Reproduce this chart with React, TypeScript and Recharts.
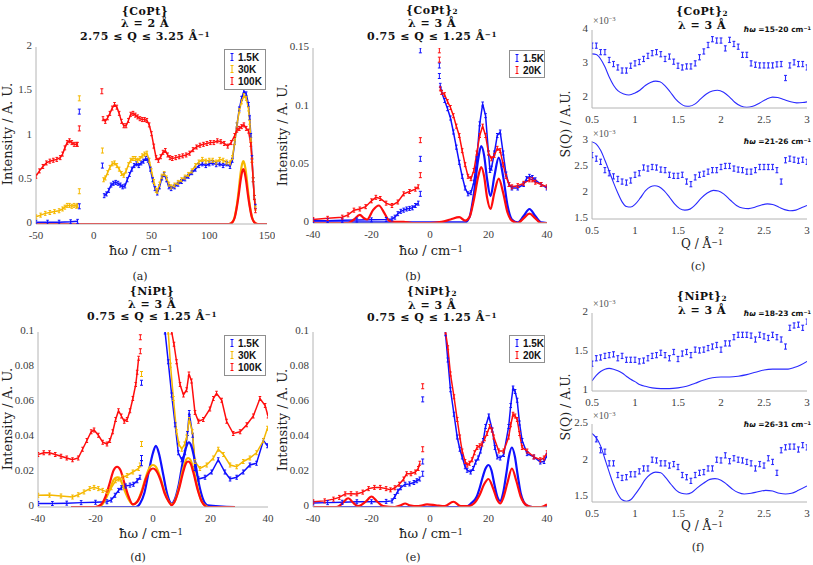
import React from 'react';
import { ComposedChart, Line, Scatter, XAxis, YAxis } from 'recharts';

type P = [number, number];

const BLUE = '#1010ff';
const GOLD = '#f5b800';
const RED = '#ff0d0d';
const AXC = '#b4b4b4';
const SERIF = '"DejaVu Serif", serif';
const TSERIF = '"Liberation Serif", serif';
const SANS = '"Liberation Sans", Arial, sans-serif';

// ---------------- panel (a) {CoPt}, lambda = 2 A ----------------
const aBlueL: P[] = [[-50,0.02],[-40,0.02],[-30,0.02],[-20,0.025],[-14,0.03]];
const aBlueR: P[] = [[9,0.32],[11,0.34],[13,0.38],[15,0.44],[17,0.46],[19,0.47],[21,0.46],[23,0.44],[25,0.42],[27,0.43],[29,0.5],[31,0.56],[33,0.62],[35,0.66],[37,0.68],[39,0.66],[41,0.69],[43,0.71],[45,0.74],[47,0.72],[49,0.62],[51,0.5],[53,0.4],[55,0.35],[57,0.42],[59,0.52],[61,0.56],[63,0.5],[65,0.42],[67,0.4],[70,0.42],[73,0.45],[76,0.48],[79,0.51],[82,0.54],[85,0.58],[88,0.62],[91,0.66],[94,0.68],[97,0.66],[100,0.68],[103,0.69],[106,0.67],[109,0.68],[112,0.66],[115,0.68],[118,0.65],[120,0.72],[122,0.92],[124,1.12],[126,1.3],[128,1.42],[130,1.5],[132,1.47],[134,1.35],[135,1.2],[136,1.0],[137,0.75],[138,0.5],[139,0.3],[140,0.2]];
const aBlueGap: P[] = [[-12.5,1.27],[-12.5,0.2],[7.5,0.66]];
const aGoldL: P[] = [[-50,0.08],[-46,0.1],[-42,0.12],[-38,0.13],[-34,0.14],[-30,0.15],[-27,0.17],[-25,0.19],[-23,0.21],[-21,0.21],[-19,0.2],[-17,0.21],[-15,0.2],[-14,0.21]];
const aGoldR: P[] = [[8.5,0.5],[10,0.52],[12,0.58],[14,0.64],[16,0.68],[18,0.69],[20,0.66],[22,0.62],[24,0.57],[26,0.55],[28,0.6],[30,0.67],[32,0.72],[34,0.74],[36,0.74],[38,0.72],[40,0.74],[42,0.77],[44,0.79],[46,0.8],[48,0.72],[50,0.6],[52,0.48],[54,0.38],[55,0.37],[57,0.45],[59,0.54],[61,0.57],[63,0.52],[65,0.45],[67,0.42],[70,0.44],[73,0.47],[76,0.5],[79,0.53],[82,0.56],[85,0.6],[88,0.66],[91,0.7],[94,0.73],[97,0.71],[100,0.72],[103,0.72],[106,0.7],[109,0.73],[112,0.72],[115,0.7],[118,0.69],[120,0.75],[122,0.92],[124,1.12],[126,1.28],[128,1.38],[130,1.45],[132,1.42],[134,1.3],[135,1.15],[136,0.95],[137,0.72],[138,0.5],[139,0.3],[140,0.18]];
const aGoldGap: P[] = [[-12.5,1.42],[-12.5,0.37],[7.5,0.83]];
const aRedL: P[] = [[-50,0.54],[-47,0.6],[-44,0.65],[-41,0.69],[-38,0.71],[-35,0.72],[-32,0.73],[-29,0.75],[-27,0.79],[-25,0.86],[-23,0.92],[-21,0.94],[-19,0.92],[-17,0.9],[-15,0.9],[-14,0.9]];
const aRedR: P[] = [[8,1.19],[10,1.16],[12,1.2],[14,1.25],[16,1.31],[18,1.35],[20,1.32],[22,1.25],[24,1.16],[26,1.11],[28,1.11],[30,1.17],[32,1.24],[34,1.25],[36,1.23],[38,1.21],[40,1.19],[42,1.18],[44,1.18],[46,1.17],[48,1.12],[50,1.02],[52,0.88],[54,0.75],[56,0.72],[58,0.76],[60,0.81],[62,0.83],[64,0.78],[66,0.75],[68,0.74],[71,0.75],[74,0.76],[77,0.77],[80,0.78],[83,0.8],[86,0.84],[89,0.87],[92,0.89],[95,0.9],[98,0.91],[101,0.92],[104,0.92],[107,0.94],[110,0.93],[113,0.91],[116,0.88],[119,0.92],[122,1.0],[124,1.06],[126,1.08],[128,1.1],[130,1.12],[132,1.08],[134,1.05],[136,0.9],[137,0.72],[138,0.5],[139,0.3],[140,0.15]];
const aRedGap: P[] = [[-12.5,1.08],[7,1.5]];
const aGoldFit: P[] = [[-50,0],[116,0],[118,0.003],[120,0.02],[122,0.08],[124,0.22],[125.5,0.38],[127,0.56],[128.5,0.68],[129.5,0.71],[130.5,0.68],[132,0.56],[133.5,0.38],[135,0.22],[137,0.08],[139,0.02],[141,0.003],[143,0],[150,0]];
const aRedFit: P[] = [[-50,0],[116,0],[118,0.003],[120,0.02],[122,0.07],[124,0.2],[125.5,0.33],[127,0.48],[128.5,0.59],[129.5,0.62],[130.5,0.59],[132,0.48],[133.5,0.33],[135,0.2],[137,0.07],[139,0.02],[141,0.003],[143,0],[150,0]];

// ---------------- panel (b) {CoPt}2, lambda = 3 A ----------------
const bBlueL: P[] = [[-40,0.002],[-35,0.002],[-30,0.0023],[-25,0.0025],[-20,0.0027],[-15,0.003],[-13,0.0035],[-12,0.005],[-11,0.008],[-10,0.01],[-9,0.011],[-8,0.012],[-7,0.0125],[-6,0.013],[-5,0.015],[-4,0.017]];
const bBlueR: P[] = [[3.5,0.118],[4,0.112],[5,0.105],[6,0.098],[7,0.09],[8,0.078],[9,0.065],[10,0.052],[11,0.04],[12,0.03],[13,0.025],[14,0.026],[15,0.035],[16,0.055],[17,0.085],[18,0.102],[19,0.092],[20,0.06],[20.5,0.045],[21,0.047],[22,0.06],[23,0.075],[24,0.078],[25,0.06],[26,0.042],[27,0.033],[28,0.03],[30,0.03],[32,0.033],[33,0.038],[34,0.04],[35,0.039],[36,0.037],[38,0.033],[40,0.03]];
const bBlueGap: P[] = [[-3.3,0.025],[-3.3,0.055],[-3.3,0.148],[3.2,0.135],[3.2,0.126]];
const bRedL: P[] = [[-40,0.003],[-35,0.004],[-30,0.005],[-28,0.007],[-26,0.011],[-24,0.012],[-22,0.014],[-20,0.019],[-18.5,0.022],[-17,0.021],[-15,0.017],[-13,0.015],[-11,0.018],[-9,0.025],[-7,0.027],[-5,0.029],[-4,0.031]];
const bRedR: P[] = [[3.5,0.115],[4,0.112],[5,0.11],[6,0.104],[7,0.099],[8,0.092],[9,0.083],[10,0.075],[11,0.062],[12,0.05],[13,0.04],[14,0.038],[15,0.045],[16,0.06],[17,0.075],[18,0.083],[19,0.075],[20,0.06],[21,0.055],[22,0.058],[23,0.064],[24,0.062],[25,0.05],[26,0.04],[27,0.033],[28,0.031],[30,0.032],[32,0.034],[34,0.037],[35,0.037],[36,0.035],[38,0.033],[40,0.031]];
const bRedGap: P[] = [[-3.3,0.041],[-3.3,0.071],[3.2,0.148],[3.2,0.14]];
const bBlueFit: P[] = [[-40,0.0005],[-14,0.0005],[12,0.0005],[13.5,0.005],[15,0.025],[16.5,0.055],[17.5,0.066],[18.5,0.058],[19.5,0.038],[20.7,0.023],[22,0.04],[23.5,0.056],[25,0.04],[26.5,0.015],[28,0.003],[30,0.0005],[32,0.006],[34,0.012],[36,0.006],[38,0.0005],[40,0]];
const bRedFit: P[] = [[-40,0],[-28,0],[-26,0.003],[-24,0.007],[-22.5,0.004],[-21.5,0.003],[-19.5,0.011],[-17.5,0.015],[-15.5,0.008],[-14,0.002],[-12,0.001],[-9,0.001],[-6,0],[0,0],[4,0.001],[7,0.003],[10,0.005],[12,0.002],[13.5,0.005],[15,0.02],[16.5,0.04],[17.5,0.048],[18.5,0.04],[19.5,0.022],[20.7,0.012],[22,0.026],[23.5,0.038],[25,0.026],[26.5,0.009],[28,0.002],[30,0],[32,0.004],[34,0.008],[36,0.004],[38,0],[40,0]];

// ---------------- panel (d) {NiPt}, lambda = 3 A ----------------
const dBlueL: P[] = [[-40,0.002],[-35,0.002],[-30,0.0022],[-25,0.0025],[-20,0.0027],[-16,0.003],[-14.5,0.004],[-13.2,0.0067],[-12,0.0095],[-11,0.011],[-9.5,0.012],[-8,0.0125],[-6.8,0.013],[-5.5,0.015],[-4.5,0.017]];
const dBlueR: P[] = [[3.6,0.12],[4.2,0.1],[5.3,0.083],[6.5,0.064],[7.7,0.047],[8.8,0.031],[10,0.027],[11.1,0.031],[12,0.042],[12.6,0.054],[13.8,0.041],[14.6,0.022],[15.8,0.016],[18.1,0.017],[20.4,0.02],[22.7,0.027],[25,0.02],[26.8,0.016],[29.1,0.017],[31.4,0.02],[33.7,0.024],[36,0.025],[38.4,0.038],[39.8,0.035]];
const dBlueGap: P[] = [[-4,0.025],[-4,0.028],[-4,0.071]];
const dGoldL: P[] = [[-40,0.0067],[-36,0.0068],[-32,0.0063],[-28,0.0057],[-26,0.007],[-24,0.0086],[-22,0.0105],[-20.5,0.0112],[-19,0.0105],[-17.5,0.0095],[-16,0.0088],[-14.5,0.011],[-13,0.015],[-12,0.016],[-10.5,0.017],[-9,0.018],[-7,0.02],[-5,0.022],[-4.5,0.024]];
const dGoldR: P[] = [[4.6,0.12],[5.3,0.1],[6.1,0.081],[7.1,0.062],[8.2,0.043],[9,0.036],[10,0.033],[11,0.036],[11.7,0.04],[12.6,0.05],[13.7,0.043],[14.6,0.026],[16.3,0.022],[18.7,0.024],[21,0.028],[22.7,0.033],[24.5,0.03],[26.8,0.024],[29.1,0.023],[31.4,0.026],[33.7,0.028],[36,0.031],[38.4,0.038],[39.8,0.045]];
const dGoldGap: P[] = [[-4,0.036],[-4,0.076]];
const dRedL: P[] = [[-40,0.03],[-38,0.031],[-36,0.031],[-34,0.03],[-32,0.029],[-30,0.028],[-28,0.027],[-26,0.028],[-24.5,0.033],[-23,0.038],[-21.5,0.043],[-20.5,0.044],[-19,0.041],[-17.5,0.037],[-16,0.036],[-15,0.038],[-14,0.043],[-13,0.05],[-12,0.055],[-11,0.052],[-10,0.049],[-9,0.05],[-8,0.055],[-7,0.062],[-6,0.07],[-5.5,0.077],[-5,0.085]];
const dRedR: P[] = [[5.9,0.12],[6.5,0.1],[7.3,0.093],[8.2,0.083],[9.4,0.07],[10.6,0.064],[11.7,0.067],[12.5,0.076],[13.4,0.072],[14.6,0.054],[15.8,0.049],[17.5,0.05],[19.8,0.056],[21,0.062],[22.1,0.065],[23.9,0.061],[25.6,0.049],[27.9,0.042],[30.3,0.043],[32.6,0.047],[34.9,0.052],[37.2,0.062],[39,0.058],[40,0.052]];
const dRedGap: P[] = [[-4.4,0.089],[-4.4,0.097]];
const dBlueFit: P[] = [[-28.5,0],[-6,0],[-4.5,0.002],[-3,0.008],[-1.5,0.02],[0,0.031],[1,0.035],[2,0.031],[3.5,0.019],[5,0.007],[6.5,0.002],[7.5,0.004],[9,0.013],[10.5,0.027],[11.7,0.035],[12.5,0.037],[13.3,0.035],[14.5,0.027],[16,0.013],[17.5,0.004],[19,0.001],[28.5,0]];
const dGoldFit: P[] = [[-20,0],[-18,0.001],[-16.5,0.0045],[-15,0.01],[-13.7,0.0155],[-12.5,0.017],[-11.3,0.0155],[-10,0.01],[-8.5,0.0045],[-7,0.0015],[-5.5,0.003],[-4,0.009],[-2.5,0.017],[-1,0.023],[0,0.024],[1,0.023],[2.5,0.017],[4,0.009],[5.5,0.003],[6.5,0.0015],[7.5,0.003],[9,0.011],[10.5,0.022],[11.5,0.027],[12.2,0.028],[13,0.027],[14,0.022],[15.5,0.011],[17,0.003],[19,0]];
const dRedFit: P[] = [[-28.5,0],[-20,0],[-18,0.0015],[-16.5,0.006],[-15,0.014],[-13.7,0.021],[-12.5,0.023],[-11.3,0.021],[-10,0.014],[-8.5,0.006],[-7,0.0015],[-5.5,0.003],[-4,0.008],[-2.5,0.016],[-1,0.021],[0,0.022],[1,0.021],[2.5,0.016],[4,0.008],[5.5,0.003],[6.5,0.001],[7.5,0.003],[9,0.01],[10.5,0.02],[11.5,0.025],[12.2,0.026],[13,0.025],[14,0.02],[15.5,0.01],[17,0.003],[19,0],[28.5,0]];

// ---------------- panel (e) {NiPt}2, lambda = 3 A ----------------
const eBlueL: P[] = [[-40,0.0023],[-35,0.0025],[-30,0.0027],[-25,0.003],[-20,0.003],[-15,0.0032],[-13,0.0035],[-12,0.006],[-11,0.009],[-10,0.011],[-8.5,0.013],[-7,0.0132],[-5.5,0.014],[-4.5,0.015],[-3.5,0.016]];
const eBlueR: P[] = [[4.8,0.11],[5.3,0.099],[6.1,0.084],[7,0.067],[8.2,0.053],[9.3,0.04],[10.2,0.033],[11,0.0286],[12,0.023],[12.7,0.021],[13.9,0.02],[14.8,0.022],[15.6,0.0257],[16.5,0.028],[17.3,0.032],[18.2,0.038],[19,0.046],[20.1,0.052],[21.3,0.044],[22.2,0.034],[23,0.0286],[24,0.028],[25.2,0.03],[26.9,0.046],[27.6,0.058],[28.4,0.068],[29.1,0.066],[29.8,0.061],[30.6,0.048],[31.5,0.038],[33.2,0.0305],[35.5,0.0286],[37.7,0.0257],[39,0.026],[40,0.0295]];
const eBlueGap: P[] = [[-2.5,0.019],[-2.5,0.026],[-2.5,0.0615]];
const eRedL: P[] = [[-40,0.003],[-36,0.0035],[-33,0.0045],[-31,0.0055],[-29,0.0075],[-27,0.0076],[-25,0.0075],[-23,0.0085],[-21,0.0105],[-19,0.0112],[-17,0.0112],[-15,0.0105],[-13.5,0.0098],[-12,0.011],[-10.5,0.013],[-9,0.016],[-8,0.019],[-6.5,0.019],[-5,0.02],[-4,0.022],[-3.5,0.025]];
const eRedR: P[] = [[4.8,0.11],[5.3,0.1],[6.1,0.091],[7,0.076],[8.2,0.063],[9.3,0.05],[10.2,0.04],[11,0.032],[12,0.026],[12.7,0.024],[13.5,0.025],[14.4,0.027],[15.2,0.031],[16.1,0.034],[17,0.035],[17.8,0.036],[18.7,0.039],[19.5,0.042],[20.4,0.046],[21.2,0.044],[21.8,0.04],[23.5,0.032],[25.2,0.032],[26.9,0.04],[27.6,0.047],[28.4,0.053],[29.1,0.052],[29.8,0.05],[30.6,0.042],[31.5,0.034],[33.2,0.032],[35.5,0.0286],[37.7,0.027],[39,0.028],[40,0.031]];
const eRedGap: P[] = [[-2.5,0.033],[-2.5,0.069]];
const eBlueFit: P[] = [[-40,0],[12,0],[14,0.002],[16,0.006],[17,0.011],[18,0.017],[19,0.022],[20,0.024],[21,0.021],[22,0.013],[23,0.006],[24,0.0035],[25,0.008],[26,0.018],[27,0.029],[28,0.034],[29,0.029],[30,0.018],[31,0.008],[32,0.003],[33,0.001],[35,0],[40,0]];
const eRedFit: P[] = [[-40,0],[-32,0],[-30,0.002],[-28,0.005],[-26,0.002],[-24.5,0.0005],[-22,0.003],[-20,0.006],[-18,0.003],[-16,0.0005],[-12,0],[-10,0.001],[-8.5,0.002],[-7,0.001],[-4,0.0005],[-1,0.0015],[2,0.001],[5,0.0005],[8,0.003],[10.5,0.0005],[13,0.0005],[15,0.002],[17,0.007],[18.5,0.013],[20,0.016],[21.5,0.011],[23,0.004],[24,0.002],[25,0.005],[26.5,0.014],[28,0.022],[29.5,0.015],[31,0.006],[33,0.001],[35,0],[38,0],[40,0.0015]];

// ---------------- panels (c) and (f): S(Q), in units of 1e-3 ----------------
const qGrid = [0.5,0.55,0.6,0.65,0.7,0.75,0.8,0.85,0.9,0.95,1.0,1.05,1.1,1.15,1.2,1.25,1.3,1.35,1.4,1.45,1.5,1.55,1.6,1.65,1.7,1.75,1.8,1.85,1.9,1.95,2.0,2.05,2.1,2.15,2.2,2.25,2.3,2.35,2.4,2.45,2.5,2.55,2.6,2.65,2.7,2.75,2.8,2.85,2.9,2.95,3.0];
const qGridF2 = [0.55,0.6,0.65,0.7,0.75,0.8,0.85,0.9,0.95,1.0,1.05,1.1,1.15,1.2,1.25,1.3,1.35,1.4,1.45,1.5,1.55,1.6,1.65,1.7,1.75,1.8,1.85,1.9,1.95,2.0,2.05,2.1,2.15,2.2,2.25,2.3,2.35,2.4,2.45,2.5,2.55,2.6,2.65,2.7,2.75,2.8,2.85,2.9,2.95,3.0];
const c1Obs = [3.54,3.54,3.35,3.35,3.12,3.0,2.9,2.81,2.81,2.95,3.02,3.06,3.15,3.24,3.32,3.35,3.29,3.15,3.22,3.07,2.95,2.9,2.93,2.93,3.02,3.2,3.37,3.56,3.73,3.69,3.69,3.46,3.71,3.59,3.51,3.27,3.27,3.02,2.98,2.96,2.96,2.96,2.96,2.99,3.0,2.59,2.96,3.05,3.0,3.0,2.9];
const c2Obs = [2.73,2.66,2.6,2.44,2.38,2.32,2.27,2.22,2.2,2.24,2.35,2.38,2.49,2.47,2.5,2.49,2.45,2.44,2.35,2.33,2.33,2.35,2.22,2.17,2.3,2.35,2.37,2.41,2.44,2.44,2.5,2.52,2.52,2.47,2.45,2.44,2.41,2.41,2.44,2.5,2.5,2.5,2.5,2.44,2.22,2.63,2.66,2.64,2.62,2.64,2.6];
const f1Obs = [1.35,1.42,1.43,1.45,1.46,1.47,1.42,1.45,1.4,1.4,1.4,1.38,1.39,1.42,1.45,1.46,1.49,1.46,1.42,1.5,1.41,1.48,1.5,1.46,1.53,1.52,1.53,1.55,1.57,1.59,1.53,1.61,1.61,1.69,1.72,1.72,1.72,1.71,1.66,1.72,1.7,1.68,1.72,1.69,1.66,1.57,1.81,1.84,1.85,1.81,1.89];
const f2Obs = [2.29,2.14,2.12,1.96,1.96,1.8,1.76,1.77,1.81,1.81,1.85,1.89,1.89,2.01,2.0,1.96,1.96,1.93,1.95,1.91,1.8,1.77,1.72,1.8,1.83,1.84,1.89,1.89,2.01,2.0,2.07,1.99,2.03,2.01,2.0,1.98,1.96,1.89,1.95,1.93,2.03,1.98,1.83,2.14,2.18,2.19,2.19,2.15,2.21,2.18];
const c1Fit: P[] = [[0.5,3.3],[0.55,3.28],[0.6,3.15],[0.65,2.92],[0.7,2.62],[0.75,2.38],[0.8,2.22],[0.87,2.12],[0.93,2.09],[1.0,2.15],[1.06,2.24],[1.12,2.37],[1.18,2.46],[1.24,2.5],[1.29,2.48],[1.35,2.36],[1.41,2.18],[1.47,1.98],[1.53,1.84],[1.58,1.77],[1.63,1.76],[1.7,1.83],[1.76,1.97],[1.83,2.12],[1.9,2.21],[1.96,2.23],[2.03,2.17],[2.1,2.03],[2.16,1.88],[2.23,1.77],[2.3,1.73],[2.37,1.76],[2.45,1.86],[2.53,1.97],[2.6,2.03],[2.66,2.02],[2.73,1.96],[2.8,1.9],[2.88,1.86],[2.95,1.87],[3.0,1.89]];
const c2Fit: P[] = [[0.5,2.98],[0.55,2.94],[0.6,2.82],[0.65,2.63],[0.7,2.42],[0.75,2.2],[0.8,2.0],[0.85,1.83],[0.9,1.74],[0.95,1.73],[1.0,1.78],[1.06,1.9],[1.12,2.04],[1.18,2.12],[1.23,2.14],[1.28,2.12],[1.34,2.04],[1.4,1.92],[1.46,1.79],[1.52,1.7],[1.58,1.67],[1.64,1.69],[1.7,1.77],[1.77,1.9],[1.84,2.0],[1.91,2.05],[1.97,2.04],[2.04,1.97],[2.11,1.86],[2.18,1.76],[2.25,1.71],[2.32,1.7],[2.4,1.73],[2.47,1.77],[2.54,1.79],[2.6,1.78],[2.67,1.73],[2.74,1.68],[2.8,1.66],[2.87,1.67],[2.94,1.72],[3.0,1.76]];
const f1Fit: P[] = [[0.5,1.13],[0.55,1.2],[0.6,1.25],[0.65,1.28],[0.7,1.29],[0.75,1.28],[0.8,1.26],[0.85,1.23],[0.9,1.19],[0.95,1.15],[1.0,1.12],[1.06,1.08],[1.12,1.06],[1.2,1.04],[1.3,1.03],[1.4,1.03],[1.5,1.04],[1.6,1.06],[1.7,1.1],[1.8,1.14],[1.9,1.17],[2.0,1.18],[2.1,1.18],[2.2,1.19],[2.3,1.21],[2.4,1.24],[2.5,1.27],[2.6,1.28],[2.7,1.28],[2.78,1.28],[2.85,1.3],[2.92,1.33],[3.0,1.38]];
const f2Fit: P[] = [[0.5,2.37],[0.55,2.31],[0.6,2.2],[0.65,2.02],[0.7,1.84],[0.75,1.67],[0.8,1.54],[0.85,1.46],[0.9,1.44],[0.95,1.46],[1.0,1.53],[1.06,1.63],[1.12,1.74],[1.18,1.81],[1.24,1.84],[1.3,1.83],[1.36,1.76],[1.42,1.67],[1.48,1.59],[1.54,1.55],[1.6,1.54],[1.66,1.56],[1.72,1.62],[1.8,1.69],[1.87,1.74],[1.93,1.75],[2.0,1.73],[2.07,1.67],[2.14,1.6],[2.2,1.56],[2.27,1.54],[2.35,1.55],[2.43,1.57],[2.52,1.59],[2.6,1.58],[2.68,1.55],[2.75,1.54],[2.82,1.55],[2.9,1.59],[3.0,1.65]];

// ---------------- axis ticks ----------------
const xTicksA = [-50, 0, 50, 100, 150];
const xTicksB = [-40, -20, 0, 20, 40];
const yTicksA = [0, 0.5, 1, 1.5, 2];
const yTicksB = [0, 0.05, 0.1, 0.15];
const yTicksD = [0, 0.02, 0.04, 0.06, 0.08, 0.1];
const qTicks = [0.5, 1, 1.5, 2, 2.5, 3];
const yTicksC1 = [2, 3, 4];
const yTicksC2 = [1.5, 2, 2.5, 3];
const yTicksF1 = [1, 1.5, 2];
const yTicksF2 = [1.5, 2, 2.5];

// ---------------- helpers ----------------
const pts = (a: P[]) => a.map(([x, y]) => ({ x, y }));
const zipPts = (xs: number[], ys: number[]) => ys.map((y, i) => ({ x: xs[i], y }));

const bar = (color: string, h: number, w: number, sw = 1) => (p: any) => {
  const { cx, cy, index } = p;
  if (typeof cx !== 'number' || typeof cy !== 'number' || isNaN(cx) || isNaN(cy)) return <g key={`n${index}`} />;
  return (
    <g key={`b${index}`} stroke={color} strokeWidth={sw} fill="none">
      <line x1={cx} x2={cx} y1={cy - h} y2={cy + h} />
      <line x1={cx - w} x2={cx + w} y1={cy - h} y2={cy - h} />
      <line x1={cx - w} x2={cx + w} y1={cy + h} y2={cy + h} />
    </g>
  );
};

const dataLine = (key: string, d: P[], color: string) => (
  <Line key={key} data={pts(d)} dataKey="y" type="linear" stroke={color} strokeWidth={1.5}
    dot={bar(color, 2, 1.3)} activeDot={false} isAnimationActive={false} />
);
const gapPts = (key: string, d: P[], color: string) => (
  <Scatter key={key} data={pts(d)} dataKey="y" fill={color} shape={bar(color, 2.5, 1.5)} isAnimationActive={false} />
);
const fitLine = (key: string, d: P[], color: string, sw = 2) => (
  <Line key={key} data={pts(d)} dataKey="y" type="monotone" stroke={color} strokeWidth={sw}
    dot={false} activeDot={false} isAnimationActive={false} />
);
const obsPts = (key: string, xs: number[], ys: number[]) => (
  <Scatter key={key} data={zipPts(xs, ys)} dataKey="y" fill={BLUE} shape={bar('#2a2aff', 2.6, 1.4, 1.1)} isAnimationActive={false} />
);

type Rect = { l: number; t: number; r: number; b: number };
const PAD = { l: 40, r: 8, t: 11, b: 22 };
const TICK = { fontSize: 11, fill: '#3c3c3c', fontFamily: TSERIF };

const makeYTick = (dy: string) => (p: any) => (
  <text x={p.x} y={p.y} dy={dy} textAnchor="end" fontSize={11} fill="#3c3c3c" fontFamily={TSERIF}>
    {String(p.payload?.value)}
  </text>
);

function Plot(props: { rect: Rect; xd: number[]; xt: number[]; yd: number[]; yt: number[]; children: React.ReactNode }) {
  const { rect, xd, xt, yd, yt, children } = props;
  const w = rect.r - rect.l + PAD.l + PAD.r;
  const h = rect.b - rect.t + PAD.t + PAD.b;
  return (
    <div style={{ position: 'absolute', left: rect.l - PAD.l, top: rect.t - PAD.t, width: w, height: h }}>
      <ComposedChart width={w} height={h} margin={{ top: PAD.t, right: PAD.r, bottom: 0, left: 0 }}>
        <XAxis type="number" dataKey="x" domain={xd} ticks={xt} allowDataOverflow interval={0} height={PAD.b}
          axisLine={{ stroke: AXC }} tickLine={false} tickSize={3} tickMargin={4} tick={TICK} />
        <YAxis type="number" dataKey="y" domain={yd} ticks={yt} allowDataOverflow interval={0} width={PAD.l}
          axisLine={{ stroke: AXC }} tickLine={false} tickSize={3} tickMargin={1} tick={makeYTick('0.2em')} />
        {children}
      </ComposedChart>
    </div>
  );
}

const Sup = ({ children }: { children: React.ReactNode }) => (
  <span style={{ fontSize: '0.66em', position: 'relative', top: '-0.4em' }}>{children}</span>
);
const Sub = ({ children }: { children: React.ReactNode }) => (
  <span style={{ fontSize: '0.66em', position: 'relative', top: '0.12em' }}>{children}</span>
);

function Txt(props: { x: number; y: number; size?: number; bold?: boolean; family?: string; color?: string; rotate?: number; align?: 'center' | 'left' | 'right'; ls?: number; children: React.ReactNode }) {
  const { x, y, size = 11, bold = false, family = SERIF, color = '#111', rotate, align = 'center', ls = 0, children } = props;
  const tx = align === 'center' ? '-50%' : align === 'right' ? '-100%' : '0';
  return (
    <div style={{
      position: 'absolute', left: x, top: y, whiteSpace: 'nowrap', lineHeight: 1,
      transform: `translate(${tx}, -50%)${rotate ? ` rotate(${rotate}deg)` : ''}`,
      fontSize: size, fontWeight: bold ? 'bold' : 'normal', letterSpacing: ls,
      fontFamily: family, color,
    }}>{children}</div>
  );
}

const Title = (props: { x: number; y: number; children: React.ReactNode }) => (
  <Txt x={props.x} y={props.y} size={11} bold ls={0.5}>{props.children}</Txt>
);

function LegendBox(props: { x: number; y: number; w: number; items: [string, string][] }) {
  const { x, y, w, items } = props;
  return (
    <div style={{ position: 'absolute', left: x, top: y, width: w, boxSizing: 'border-box', border: '1px solid #8f8f8f', background: '#fff', padding: '1px 0' }}>
      {items.map(([label, color]) => (
        <div key={label} style={{ height: 12.2, display: 'flex', alignItems: 'center', fontFamily: SANS, fontWeight: 'bold', fontSize: 10, color: '#111' }}>
          <svg width={4} height={8} style={{ marginLeft: 5, marginRight: 4 }}>
            <path d="M0.5 0.5 H3.5 M2 0.5 V7.5 M0.5 7.5 H3.5" stroke={color} strokeWidth={1} fill="none" />
          </svg>
          <span>{label}</span>
        </div>
      ))}
    </div>
  );
}

const rectA: Rect = { l: 36, t: 47, r: 267, b: 224 };
const rectB: Rect = { l: 313, t: 48, r: 547, b: 223 };
const rectD: Rect = { l: 38, t: 332, r: 268, b: 507 };
const rectE: Rect = { l: 313, t: 332, r: 547, b: 507 };
const rectC1: Rect = { l: 592, t: 30, r: 807, b: 108 };
const rectC2: Rect = { l: 592, t: 141, r: 807, b: 219 };
const rectF1: Rect = { l: 592, t: 313, r: 807, b: 391 };
const rectF2: Rect = { l: 592, t: 424, r: 807, b: 502 };

const xLabel = <>ħω / cm<Sup>−1</Sup></>;
const qLabel = <>Q / Å<Sup>−1</Sup></>;
const qRange1 = <>0.75 ≤ Q ≤ 1.25 Å<Sup>−1</Sup></>;
const HW = '"DejaVu Sans", sans-serif';

export default function App() {
  return (
    <div style={{ position: 'absolute', left: 0, top: 0, width: 813, height: 565, background: '#fff', overflow: 'hidden' }}>
      {/* (a) */}
      <Plot rect={rectA} xd={[-50, 150]} xt={xTicksA} yd={[0, 2]} yt={yTicksA}>
        {dataLine('abl', aBlueL, BLUE)}
        {dataLine('abr', aBlueR, BLUE)}
        {dataLine('agl', aGoldL, GOLD)}
        {dataLine('agr', aGoldR, GOLD)}
        {dataLine('arl', aRedL, RED)}
        {dataLine('arr', aRedR, RED)}
        {gapPts('abg', aBlueGap, BLUE)}
        {gapPts('agg', aGoldGap, GOLD)}
        {gapPts('arg', aRedGap, RED)}
        {fitLine('agf', aGoldFit, GOLD, 2.2)}
        {fitLine('arf', aRedFit, RED, 2.2)}
      </Plot>
      <Title x={145} y={10.5}>{'{CoPt}'}</Title>
      <Title x={145} y={23}>λ = 2 Å</Title>
      <Title x={145} y={35.5}>2.75 ≤ Q ≤ 3.25 Å<Sup>−1</Sup></Title>
      <Txt x={7} y={134} size={13} rotate={-90} color="#222">Intensity / A. U.</Txt>
      <Txt x={141} y={250} size={13} color="#222">{xLabel}</Txt>
      <Txt x={140} y={276} size={11} color="#222">(a)</Txt>
      <LegendBox x={224} y={49} w={42} items={[['1.5K', BLUE], ['30K', GOLD], ['100K', RED]]} />

      {/* (b) */}
      <Plot rect={rectB} xd={[-40, 40]} xt={xTicksB} yd={[0, 0.15]} yt={yTicksB}>
        {dataLine('bbl', bBlueL, BLUE)}
        {dataLine('bbr', bBlueR, BLUE)}
        {dataLine('brl', bRedL, RED)}
        {dataLine('brr', bRedR, RED)}
        {gapPts('bbg', bBlueGap, BLUE)}
        {gapPts('brg', bRedGap, RED)}
        {fitLine('bbf', bBlueFit, BLUE, 2.2)}
        {fitLine('brf', bRedFit, RED, 2.2)}
      </Plot>
      <Title x={432} y={9.5}>{'{CoPt}'}<Sub>2</Sub></Title>
      <Title x={432} y={23}>λ = 3 Å</Title>
      <Title x={432} y={35.5}>{qRange1}</Title>
      <Txt x={282} y={135} size={13} rotate={-90} color="#222">Intensity / A. U.</Txt>
      <Txt x={431} y={250} size={13} color="#222">{xLabel}</Txt>
      <Txt x={413} y={276} size={11} color="#222">(b)</Txt>
      <LegendBox x={509} y={50} w={36} items={[['1.5K', BLUE], ['20K', RED]]} />

      {/* (c) */}
      <Plot rect={rectC1} xd={[0.5, 3]} xt={qTicks} yd={[1.71, 4]} yt={yTicksC1}>
        {obsPts('c1o', qGrid, c1Obs)}
        {fitLine('c1f', c1Fit, '#2a2aff', 1.1)}
      </Plot>
      <Plot rect={rectC2} xd={[0.5, 3]} xt={qTicks} yd={[1.5, 3]} yt={yTicksC2}>
        {obsPts('c2o', qGrid, c2Obs)}
        {fitLine('c2f', c2Fit, '#2a2aff', 1.1)}
      </Plot>
      <Title x={702} y={11}>{'{CoPt}'}<Sub>2</Sub></Title>
      <Title x={702} y={24.5}>λ = 3 Å</Title>
      <Txt x={593} y={21} size={10} family={TSERIF} color="#555" align="left">×10<Sup>−3</Sup></Txt>
      <Txt x={593} y={134} size={10} family={TSERIF} color="#555" align="left">×10<Sup>−3</Sup></Txt>
      <Txt x={811} y={30} size={7.5} bold family={HW} align="right"><i>ħω</i> =15-20 cm<Sup>−1</Sup></Txt>
      <Txt x={811} y={142} size={7.5} bold family={HW} align="right"><i>ħω</i> =21-26 cm<Sup>−1</Sup></Txt>
      <Txt x={566} y={124} size={12.5} rotate={-90} color="#222">S(Q) / A.U.</Txt>
      <Txt x={702} y={244} size={12} color="#222">{qLabel}</Txt>
      <Txt x={698} y={266} size={11} color="#222">(c)</Txt>

      {/* (d) */}
      <Plot rect={rectD} xd={[-40, 40]} xt={xTicksB} yd={[0, 0.1]} yt={yTicksD}>
        {dataLine('dbl', dBlueL, BLUE)}
        {dataLine('dbr', dBlueR, BLUE)}
        {dataLine('dgl', dGoldL, GOLD)}
        {dataLine('dgr', dGoldR, GOLD)}
        {dataLine('drl', dRedL, RED)}
        {dataLine('drr', dRedR, RED)}
        {gapPts('dbg', dBlueGap, BLUE)}
        {gapPts('dgg', dGoldGap, GOLD)}
        {gapPts('drg', dRedGap, RED)}
        {fitLine('dbf', dBlueFit, BLUE, 2.2)}
        {fitLine('dgf', dGoldFit, GOLD, 2.2)}
        {fitLine('drf', dRedFit, RED, 2.2)}
      </Plot>
      <Title x={152} y={291}>{'{NiPt}'}</Title>
      <Title x={152} y={303.5}>λ = 3 Å</Title>
      <Title x={152} y={316}>{qRange1}</Title>
      <Txt x={7} y={419} size={13} rotate={-90} color="#222">Intensity / A. U.</Txt>
      <Txt x={151} y={533} size={13} color="#222">{xLabel}</Txt>
      <Txt x={138} y={557} size={11} color="#222">(d)</Txt>
      <LegendBox x={224} y={335} w={42} items={[['1.5K', BLUE], ['30K', GOLD], ['100K', RED]]} />

      {/* (e) */}
      <Plot rect={rectE} xd={[-40, 40]} xt={xTicksB} yd={[0, 0.1]} yt={yTicksD}>
        {dataLine('ebl', eBlueL, BLUE)}
        {dataLine('ebr', eBlueR, BLUE)}
        {dataLine('erl', eRedL, RED)}
        {dataLine('err', eRedR, RED)}
        {gapPts('ebg', eBlueGap, BLUE)}
        {gapPts('erg', eRedGap, RED)}
        {fitLine('ebf', eBlueFit, BLUE, 2.2)}
        {fitLine('erf', eRedFit, RED, 2.2)}
      </Plot>
      <Title x={432} y={291}>{'{NiPt}'}<Sub>2</Sub></Title>
      <Title x={432} y={304.5}>λ = 3 Å</Title>
      <Title x={432} y={317}>{qRange1}</Title>
      <Txt x={282} y={420} size={13} rotate={-90} color="#222">Intensity / A. U.</Txt>
      <Txt x={431} y={533} size={13} color="#222">{xLabel}</Txt>
      <Txt x={413} y={557} size={11} color="#222">(e)</Txt>
      <LegendBox x={509} y={335} w={36} items={[['1.5K', BLUE], ['20K', RED]]} />

      {/* (f) */}
      <Plot rect={rectF1} xd={[0.5, 3]} xt={qTicks} yd={[1, 2]} yt={yTicksF1}>
        {obsPts('f1o', qGrid, f1Obs)}
        {fitLine('f1f', f1Fit, '#2a2aff', 1.1)}
      </Plot>
      <Plot rect={rectF2} xd={[0.5, 3]} xt={qTicks} yd={[1.43, 2.5]} yt={yTicksF2}>
        {obsPts('f2o', qGridF2, f2Obs)}
        {fitLine('f2f', f2Fit, '#2a2aff', 1.1)}
      </Plot>
      <Title x={702} y={296}>{'{NiPt}'}<Sub>2</Sub></Title>
      <Title x={702} y={309.5}>λ = 3 Å</Title>
      <Txt x={593} y={304} size={10} family={TSERIF} color="#555" align="left">×10<Sup>−3</Sup></Txt>
      <Txt x={593} y={416} size={10} family={TSERIF} color="#555" align="left">×10<Sup>−3</Sup></Txt>
      <Txt x={811} y={314} size={7.5} bold family={HW} align="right"><i>ħω</i> =18-23 cm<Sup>−1</Sup></Txt>
      <Txt x={811} y={425} size={7.5} bold family={HW} align="right"><i>ħω</i> =26-31 cm<Sup>−1</Sup></Txt>
      <Txt x={566} y={407} size={12.5} rotate={-90} color="#222">S(Q) / A.U.</Txt>
      <Txt x={702} y={526} size={12} color="#222">{qLabel}</Txt>
      <Txt x={698} y={547} size={11} color="#222">(f)</Txt>
    </div>
  );
}
